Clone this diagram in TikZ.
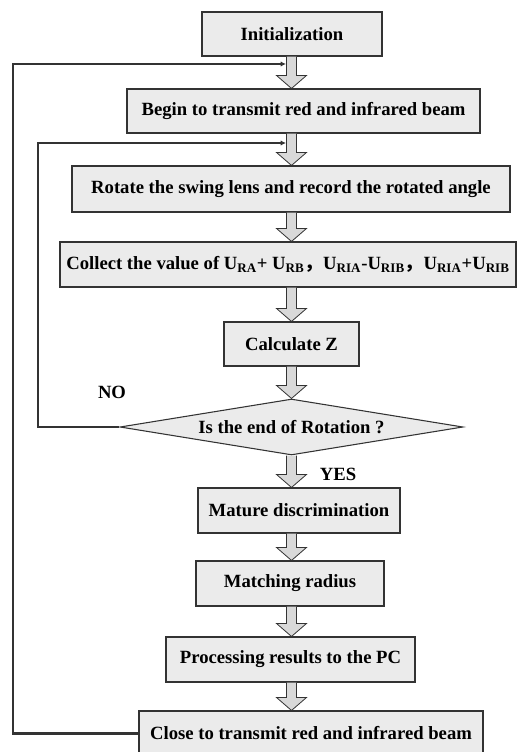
\documentclass[tikz,border=0pt]{standalone}
\usepackage{fontspec}
\setmainfont{Liberation Serif}
\newfontfamily\cjk{Noto Sans CJK SC}
\usepackage{xcolor}
\usetikzlibrary{shapes.geometric,calc,arrows.meta}

\definecolor{boxgray}{HTML}{EBEBEB}
\definecolor{arrowgray}{HTML}{D9D9D9}
\definecolor{edgegray}{HTML}{333333}

% hollow block arrow on the spine, from one node to the next
\newcommand{\flowarrow}[2]{%
  \draw[fill=arrowgray,draw=edgegray,line width=0.6pt]
    let \p1=(#1.south), \p2=(#2.north) in
    (214.875pt,\y1) -- (214.875pt,\y2+9.75pt) -- (207.375pt,\y2+9.75pt) --
    (218.625pt,\y2) -- (229.875pt,\y2+9.75pt) -- (222.375pt,\y2+9.75pt) --
    (222.375pt,\y1);}

\begin{document}
\begin{tikzpicture}[x=0.75pt,y=-0.75pt,
    flowbox/.style={draw=edgegray,fill=boxgray,line width=0.8pt,inner sep=1pt,
      font=\fontsize{14}{16}\selectfont\bfseries},
    checkbox/.style={flowbox,diamond,aspect=6},
    loopline/.style={draw=edgegray,line width=2.2pt,-{Latex[length=4pt,width=4pt]}},
    answer/.style={font=\fontsize{14}{16}\selectfont\bfseries}]
  \useasboundingbox (0,0) rectangle (517,752);

  % boxes
  \node[flowbox,minimum width=135pt,minimum height=33pt]      (init)    at (292,34)    {Initialization};
  \node[flowbox,minimum width=264.75pt,minimum height=33pt]   (begin)   at (303.5,111) {Begin to transmit red and infrared beam};
  \node[flowbox,minimum width=328.5pt,minimum height=34.5pt]  (rotate)  at (291,189)   {Rotate the swing lens and record the rotated angle};
  \node[flowbox,minimum width=342pt,minimum height=33.75pt]   (collect) at (288,264.5) {Collect the value of U\textsubscript{RA}+ U\textsubscript{RB}{\cjk ，}U\textsubscript{RIA}-U\textsubscript{RIB}{\cjk ，}U\textsubscript{RIA}+U\textsubscript{RIB}};
  \node[flowbox,minimum width=101.25pt,minimum height=33pt]   (calc)    at (291.5,344) {Calculate Z};
  \node[checkbox,minimum width=257.25pt,minimum height=42pt]  (check)   at (291.5,427) {Is the end of Rotation ?};
  \node[flowbox,minimum width=151.5pt,minimum height=33.75pt] (mature)  at (299,510.5) {Mature discrimination};
  \node[flowbox,minimum width=141pt,minimum height=33.75pt]   (match)   at (290,583.5) {Matching radius};
  \node[flowbox,minimum width=186.75pt,minimum height=33.75pt](proc)    at (290.5,659.5) {Processing results to the PC};
  \node[flowbox,minimum width=258pt,minimum height=33.75pt]   (close)   at (311,733.5) {Close to transmit red and infrared beam};

  \node[answer] (no)  at (112,392) {NO};
  \node[answer] (yes) at (338,474) {YES};

  % main flow
  \flowarrow{init}{begin}
  \flowarrow{begin}{rotate}
  \flowarrow{rotate}{collect}
  \flowarrow{collect}{calc}
  \flowarrow{calc}{check}
  \flowarrow{check}{mature}
  \flowarrow{mature}{match}
  \flowarrow{match}{proc}
  \flowarrow{proc}{close}

  % feedback loops
  \coordinate (outerx) at (13,0);
  \coordinate (innerx) at (38,0);
  \coordinate (fbtop)  at (286,64);
  \coordinate (fbin)   at (286,143);
  \draw[loopline] (close.west) -- (close.west -| outerx) |- (fbtop);
  \draw[loopline] (check.west) -- (check.west -| innerx) |- (fbin);
\end{tikzpicture}
\end{document}
